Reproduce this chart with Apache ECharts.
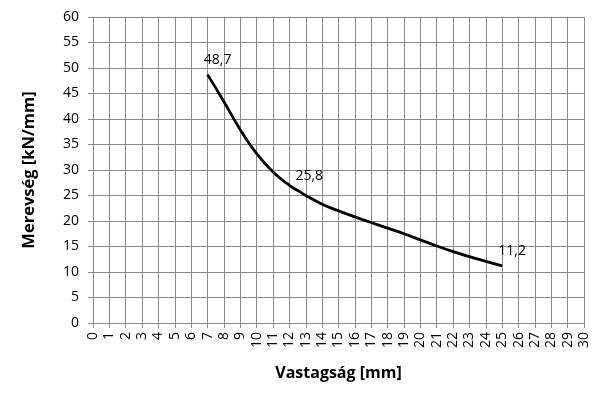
<!DOCTYPE html>
<html>
<head>
<meta charset="utf-8">
<script src="https://cdn.jsdelivr.net/npm/echarts@6/dist/echarts.min.js"></script>
<style>html,body{margin:0;padding:0;background:#fff}#c{width:600px;height:400px}</style>
</head>
<body>
<div id="c"></div>
<script>
// Thickness (mm) and stiffness (kN/mm)
const thickness = [7, 8, 9, 10, 11, 12, 12.6, 13, 14, 15, 16, 17, 18, 19, 20, 21, 22, 23, 24, 25];
const stiffness = [48.7, 43.4, 37.9, 33.2, 29.6, 27.0, 25.8, 25.0, 23.3, 22.0, 20.8, 19.7, 18.6, 17.5, 16.3, 15.1, 14.0, 13.0, 12.1, 11.2];
// Points that carry a value label
const labelThickness = [7, 12.6, 25];
const labelTexts = ['48,7', '25,8', '11,2'];
const xTitle = 'Vastagság [mm]';
const yTitle = 'Merevség [kN/mm]';

const FONT = 'Open Sans';
const gridColor = '#8a8a8a';

const lineData = thickness.map((x, i) => {
  const li = labelThickness.indexOf(x);
  const item = { value: [x, stiffness[i]] };
  if (li >= 0) {
    item.name = labelTexts[li];
    item.label = { show: true };
  }
  return item;
});

const chart = echarts.init(document.getElementById('c'), null, { renderer: 'canvas' });
chart.setOption({
  animation: false,
  backgroundColor: '#ffffff',
  grid: { left: 93, right: 16, top: 17, bottom: 77, containLabel: false },
  xAxis: {
    type: 'value', min: 0, max: 30, interval: 1,
    name: xTitle, nameLocation: 'middle', nameGap: 42,
    nameTextStyle: { fontFamily: FONT, fontWeight: 'bold', fontSize: 16, color: '#000' },
    axisLine: { show: true, lineStyle: { color: gridColor, width: 1 } },
    axisTick: { show: true, length: 5, lineStyle: { color: gridColor } },
    axisLabel: { rotate: 90, margin: 9, fontFamily: FONT, fontSize: 14, color: '#000' },
    splitLine: { show: true, lineStyle: { color: gridColor, width: 1 } }
  },
  yAxis: {
    type: 'value', min: 0, max: 60, interval: 5,
    name: yTitle, nameLocation: 'middle', nameGap: 55, nameRotate: 90,
    nameTextStyle: { fontFamily: FONT, fontWeight: 'bold', fontSize: 16.5, color: '#000' },
    axisLine: { show: true, lineStyle: { color: gridColor, width: 1 } },
    axisTick: { show: true, length: 5, lineStyle: { color: gridColor } },
    axisLabel: { margin: 14, fontFamily: FONT, fontSize: 14, color: '#000' },
    splitLine: { show: true, lineStyle: { color: gridColor, width: 1 } }
  },
  series: [
    {
      type: 'line', data: lineData, smooth: 0.5,
      showSymbol: true, symbol: 'circle', symbolSize: 0.01,
      itemStyle: { color: '#000' },
      lineStyle: { color: '#000', width: 2.8 },
      label: {
        show: false, position: 'top', distance: 5, offset: [10, -3],
        formatter: p => p.name, fontFamily: FONT, fontSize: 14, color: '#000'
      },
      emphasis: { disabled: true },
      z: 3
    }
  ]
});
</script>
</body>
</html>
